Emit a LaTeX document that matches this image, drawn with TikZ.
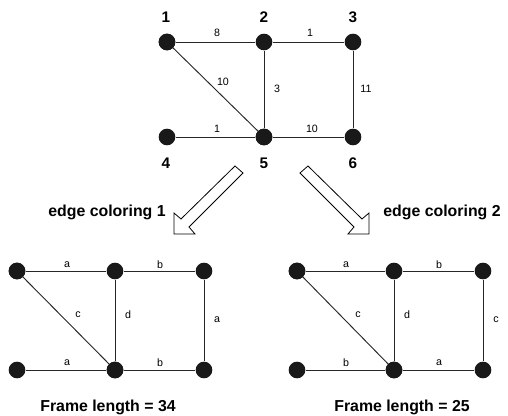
\documentclass[tikz,border=0pt]{standalone}
\usepackage{fontspec}
\setmainfont{Liberation Sans}
\begin{document}
\begin{tikzpicture}[x=0.75pt,y=-0.75pt,
  vtx/.style={circle,fill=black!90,draw=none,minimum size=12.5pt,inner sep=0pt},
  edge/.style={draw=black!85,line width=0.7pt},
  elab/.style={inner sep=0pt,font=\fontsize{8}{9.5}\selectfont},
  vlab/.style={inner sep=0pt,font=\fontsize{11.5}{13}\selectfont\bfseries},
  title/.style={inner sep=0pt,font=\fontsize{11.9}{14}\selectfont\bfseries},
  bigarrow/.style={draw=black,fill=white,line width=0.6pt,line join=miter}]
\useasboundingbox (0,0) rectangle (508,416);

% ---------- top graph ----------
\node[vtx] (t1) at (167,42) {};
\node[vtx] (t2) at (264,42) {};
\node[vtx] (t3) at (353,42) {};
\node[vtx] (t4) at (167,137) {};
\node[vtx] (t5) at (264,137) {};
\node[vtx] (t6) at (353,137) {};
\draw[edge] (t1) -- (t2);
\draw[edge] (t2) -- (t3);
\draw[edge] (t1.center) -- (t5.center);
\draw[edge] (t2) -- (t5);
\draw[edge] (t3) -- (t6);
\draw[edge] (t4) -- (t5);
\draw[edge] (t5) -- (t6);
\node[vtx] at (t1) {};
\node[vtx] at (t5) {};
\node[vlab] (n1) at (166,17) {1};
\node[vlab] (n2) at (264,17) {2};
\node[vlab] (n3) at (353,17) {3};
\node[vlab] (n4) at (166,163) {4};
\node[vlab] (n5) at (264,163) {5};
\node[vlab] (n6) at (353,163) {6};
\node[elab] (w12) at (217,33) {8};
\node[elab] (w23) at (310,33) {1};
\node[elab] (w15) at (223,82) {10};
\node[elab] (w25) at (277,89) {3};
\node[elab] (w36) at (366,89) {11};
\node[elab] (w45) at (217,129) {1};
\node[elab] (w56) at (312,129) {10};

% ---------- arrows ----------
\draw[bigarrow] (235,166) -- (181,219) -- (174,213) -- (174,234) -- (195,234) -- (189,227) -- (243,173) -- cycle;
\draw[bigarrow] (308,166) -- (362,219) -- (369,213) -- (369,234) -- (348,234) -- (354,227) -- (300,173) -- cycle;
\node[title] (ec1) at (107,212) {edge coloring 1};
\node[title] (ec2) at (442,212) {edge coloring 2};

% ---------- bottom-left graph ----------
\node[vtx] (a1) at (17,271) {};
\node[vtx] (a2) at (115,271) {};
\node[vtx] (a3) at (204,271) {};
\node[vtx] (a4) at (17,370) {};
\node[vtx] (a5) at (115,370) {};
\node[vtx] (a6) at (204,370) {};
\draw[edge] (a1) -- (a2);
\draw[edge] (a2) -- (a3);
\draw[edge] (a1.center) -- (a5.center);
\draw[edge] (a2) -- (a5);
\draw[edge] (a3) -- (a6);
\draw[edge] (a4) -- (a5);
\draw[edge] (a5) -- (a6);
\node[vtx] at (a1) {};
\node[vtx] at (a5) {};
\node[elab] (la12) at (67,265) {a};
\node[elab] (la23) at (160,265) {b};
\node[elab] (la15) at (78,315) {c};
\node[elab] (la25) at (128,315) {d};
\node[elab] (la36) at (217,320) {a};
\node[elab] (la45) at (67,363) {a};
\node[elab] (la56) at (160,363) {b};
\node[title] (f1) at (108,407) {Frame length = 34};

% ---------- bottom-right graph ----------
\node[vtx] (b1) at (297,271) {};
\node[vtx] (b2) at (394,271) {};
\node[vtx] (b3) at (483,271) {};
\node[vtx] (b4) at (297,370) {};
\node[vtx] (b5) at (394,370) {};
\node[vtx] (b6) at (483,370) {};
\draw[edge] (b1) -- (b2);
\draw[edge] (b2) -- (b3);
\draw[edge] (b1.center) -- (b5.center);
\draw[edge] (b2) -- (b5);
\draw[edge] (b3) -- (b6);
\draw[edge] (b4) -- (b5);
\draw[edge] (b5) -- (b6);
\node[vtx] at (b1) {};
\node[vtx] at (b5) {};
\node[elab] (lb12) at (346,265) {a};
\node[elab] (lb23) at (439,265) {b};
\node[elab] (lb15) at (358,315) {c};
\node[elab] (lb25) at (407,315) {d};
\node[elab] (lb36) at (496,320) {c};
\node[elab] (lb45) at (346,363) {b};
\node[elab] (lb56) at (439,363) {a};
\node[title] (f2) at (402,407) {Frame length = 25};
\end{tikzpicture}
\end{document}
